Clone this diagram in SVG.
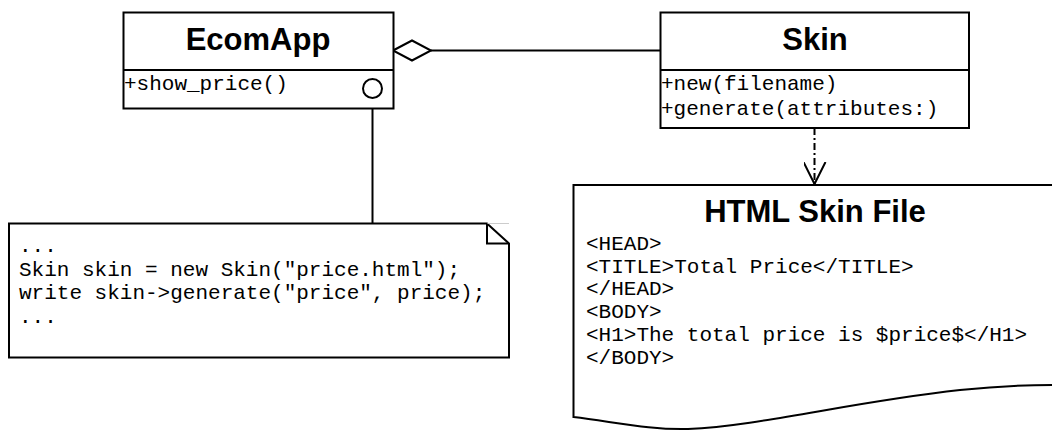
<svg xmlns="http://www.w3.org/2000/svg" width="1052" height="431" viewBox="0 0 1052 431">
  <style>
    .box { fill: #fff; stroke: #000; stroke-width: 2; }
    .line { fill: none; stroke: #000; stroke-width: 2; }
    .title { font-family: "Liberation Sans", Arial, sans-serif; font-weight: bold; font-size: 31px; fill: #000; text-anchor: middle; }
    .code { font-family: "Liberation Mono", "Courier New", monospace; font-size: 21px; fill: #000; }
  </style>
  <defs>
    <marker id="open-arrow" markerUnits="userSpaceOnUse" markerWidth="26" markerHeight="26" refX="11" refY="22" orient="0" viewBox="0 0 26 26">
      <path d="M0,0 L11,22 L22,0" fill="none" stroke="#000" stroke-width="2"/>
    </marker>
  </defs>

  <!-- connectors -->
  <g id="connectors">
    <!-- aggregation: EcomApp holds a Skin -->
    <line class="line" x1="431" y1="50.5" x2="660" y2="50.5"/>
    <path class="box" d="M393,50.5 L412,40.5 L431,50.5 L412,60.5 Z"/>
    <!-- Skin generates the HTML file -->
    <line class="line" x1="814.5" y1="128" x2="814.5" y2="184" stroke-dasharray="7,3,2,3" marker-end="url(#open-arrow)"/>
    <!-- lollipop link to the code note -->
    <line class="line" x1="372.5" y1="98" x2="372.5" y2="223"/>
  </g>

  <!-- EcomApp class -->
  <g id="ecomapp">
    <rect class="box" x="123.5" y="12.5" width="270" height="96"/>
    <line class="line" x1="123.5" y1="70" x2="393.5" y2="70"/>
    <text class="title" x="258" y="50">EcomApp</text>
    <text class="code" x="124" y="90">+show_price()</text>
    <circle class="box" cx="372.5" cy="88.5" r="9.5"/>
  </g>

  <!-- Skin class -->
  <g id="skin">
    <rect class="box" x="660.5" y="12.5" width="308.5" height="115.5"/>
    <line class="line" x1="660.5" y1="70" x2="969" y2="70"/>
    <text class="title" x="815" y="50">Skin</text>
    <text class="code" x="661" y="90">+new(filename)</text>
    <text class="code" x="661" y="115">+generate(attributes:)</text>
  </g>

  <!-- code note -->
  <g id="note">
    <path class="box" d="M9,223.5 L487,223.5 L509,243.5 L509,357.5 L9,357.5 Z"/>
    <line x1="487" y1="223.5" x2="509" y2="223.5" stroke="#ccc" stroke-width="1"/>
    <path class="line" d="M487,223.5 L487,243.5 L509,243.5"/>
    <text class="code" x="19" y="252">...</text>
    <text class="code" x="19" y="275.5">Skin skin = new Skin("price.html");</text>
    <text class="code" x="19" y="299">write skin-&gt;generate("price", price);</text>
    <text class="code" x="19" y="322.5">...</text>
  </g>

  <!-- HTML skin file document -->
  <g id="html-skin-file">
    <path class="box" d="M1053,185 L573.5,185 L573.5,417 C615,422 650,430 688,429 C760,426 850,402 960,390 C1000,386 1030,385 1053,385"/>
    <text class="title" x="815" y="222">HTML Skin File</text>
    <text class="code" x="586" y="250">&lt;HEAD&gt;</text>
    <text class="code" x="586" y="272.5">&lt;TITLE&gt;Total Price&lt;/TITLE&gt;</text>
    <text class="code" x="586" y="295">&lt;/HEAD&gt;</text>
    <text class="code" x="586" y="318">&lt;BODY&gt;</text>
    <text class="code" x="586" y="341">&lt;H1&gt;The total price is $price$&lt;/H1&gt;</text>
    <text class="code" x="586" y="363.5">&lt;/BODY&gt;</text>
  </g>
</svg>
